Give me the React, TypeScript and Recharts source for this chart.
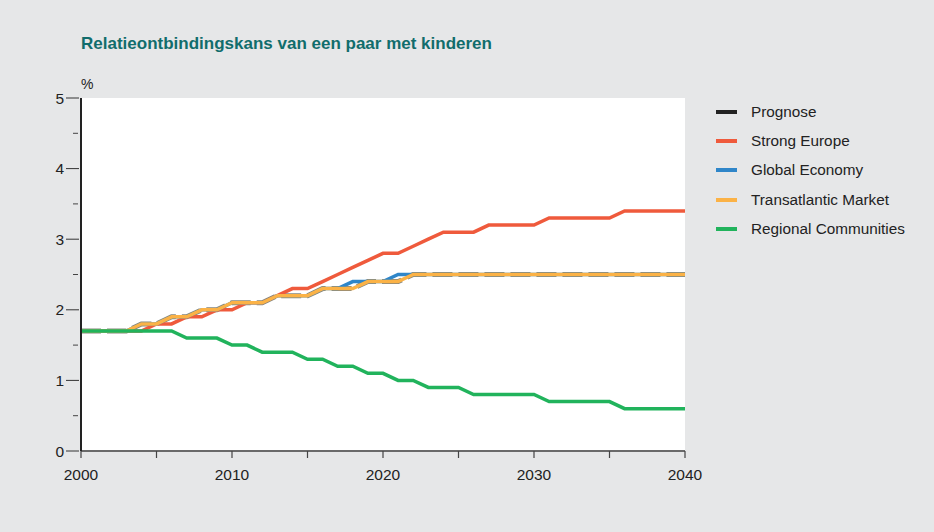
import { LineChart, Line, XAxis, YAxis, ReferenceArea } from 'recharts';

// years 2000-2040
const years = [
  2000, 2001, 2002, 2003, 2004, 2005, 2006, 2007, 2008, 2009,
  2010, 2011, 2012, 2013, 2014, 2015, 2016, 2017, 2018, 2019,
  2020, 2021, 2022, 2023, 2024, 2025, 2026, 2027, 2028, 2029,
  2030, 2031, 2032, 2033, 2034, 2035, 2036, 2037, 2038, 2039, 2040,
];

const prognose = [
  1.7, 1.7, 1.7, 1.7, 1.8, 1.8, 1.9, 1.9, 2.0, 2.0,
  2.1, 2.1, 2.1, 2.2, 2.2, 2.2, 2.3, 2.3, 2.3, 2.4,
  2.4, 2.4, 2.5, 2.5, 2.5, 2.5, 2.5, 2.5, 2.5, 2.5,
  2.5, 2.5, 2.5, 2.5, 2.5, 2.5, 2.5, 2.5, 2.5, 2.5, 2.5,
];

const strongEurope = [
  1.7, 1.7, 1.7, 1.7, 1.7, 1.8, 1.8, 1.9, 1.9, 2.0,
  2.0, 2.1, 2.1, 2.2, 2.3, 2.3, 2.4, 2.5, 2.6, 2.7,
  2.8, 2.8, 2.9, 3.0, 3.1, 3.1, 3.1, 3.2, 3.2, 3.2,
  3.2, 3.3, 3.3, 3.3, 3.3, 3.3, 3.4, 3.4, 3.4, 3.4, 3.4,
];

const globalEconomy = [
  1.7, 1.7, 1.7, 1.7, 1.8, 1.8, 1.9, 1.9, 2.0, 2.0,
  2.1, 2.1, 2.1, 2.2, 2.2, 2.2, 2.3, 2.3, 2.4, 2.4,
  2.4, 2.5, 2.5, 2.5, 2.5, 2.5, 2.5, 2.5, 2.5, 2.5,
  2.5, 2.5, 2.5, 2.5, 2.5, 2.5, 2.5, 2.5, 2.5, 2.5, 2.5,
];

const transatlanticMarket = [
  1.7, 1.7, 1.7, 1.7, 1.8, 1.8, 1.9, 1.9, 2.0, 2.0,
  2.1, 2.1, 2.1, 2.2, 2.2, 2.2, 2.3, 2.3, 2.3, 2.4,
  2.4, 2.4, 2.5, 2.5, 2.5, 2.5, 2.5, 2.5, 2.5, 2.5,
  2.5, 2.5, 2.5, 2.5, 2.5, 2.5, 2.5, 2.5, 2.5, 2.5, 2.5,
];

const regionalCommunities = [
  1.7, 1.7, 1.7, 1.7, 1.7, 1.7, 1.7, 1.6, 1.6, 1.6,
  1.5, 1.5, 1.4, 1.4, 1.4, 1.3, 1.3, 1.2, 1.2, 1.1,
  1.1, 1.0, 1.0, 0.9, 0.9, 0.9, 0.8, 0.8, 0.8, 0.8,
  0.8, 0.7, 0.7, 0.7, 0.7, 0.7, 0.6, 0.6, 0.6, 0.6, 0.6,
];

const xTicks = [2000, 2005, 2010, 2015, 2020, 2025, 2030, 2035, 2040];
const yTicks = [0, 0.5, 1, 1.5, 2, 2.5, 3, 3.5, 4, 4.5, 5];

const series = [
  { key: 'prognose', name: 'Prognose', color: '#222222' },
  { key: 'strong', name: 'Strong Europe', color: '#ef5a3c' },
  { key: 'global', name: 'Global Economy', color: '#2f86c9' },
  { key: 'transatlantic', name: 'Transatlantic Market', color: '#fbb246' },
  { key: 'regional', name: 'Regional Communities', color: '#21b35c' },
];

const data = years.map((year, i) => ({
  year,
  prognose: prognose[i],
  strong: strongEurope[i],
  global: globalEconomy[i],
  transatlantic: transatlanticMarket[i],
  regional: regionalCommunities[i],
}));

const FONT = '"Liberation Sans", Arial, sans-serif';

function YTick({ x, y, payload }: any) {
  const major = Number.isInteger(payload.value);
  if (!major) {
    return <line x1={x - 8} x2={x - 3} y1={y} y2={y} stroke='#444' strokeWidth={1} />;
  }
  return (
    <g>
      <line x1={x - 15} x2={x - 2} y1={y} y2={y} stroke='#333' strokeWidth={1} />
      <text x={x - 17} y={y + 5.5} textAnchor='end' fontSize={15.5} fill='#222' fontFamily={FONT}>
        {payload.value}
      </text>
    </g>
  );
}

function XTick({ x, y, payload }: any) {
  const labelled = payload.value % 10 === 0;
  return (
    <g>
      <line x1={x} x2={x} y1={y} y2={y + 7} stroke='#444' strokeWidth={1.2} />
      {labelled && (
        <text x={x} y={y + 29} textAnchor='middle' fontSize={15.5} fill='#222' fontFamily={FONT}>
          {payload.value}
        </text>
      )}
    </g>
  );
}

function LegendBox() {
  return (
    <div style={{ position: 'absolute', left: 716, top: 97, fontFamily: FONT, fontSize: 15.3, color: '#222' }}>
      {series.map((s) => (
        <div key={s.key} style={{ display: 'flex', alignItems: 'center', height: 29.4 }}>
          <span style={{ display: 'inline-block', width: 21, height: 4, background: s.color, marginRight: 14 }} />
          <span>{s.name}</span>
        </div>
      ))}
    </div>
  );
}

export default function App() {
  return (
    <div style={{ position: 'relative', width: 934, height: 532, background: '#e6e7e8' }}>
      <style>{'body{margin:0}'}</style>
      <div
        style={{
          position: 'absolute',
          left: 81,
          top: 34,
          fontFamily: FONT,
          fontWeight: 'bold',
          fontSize: 17,
          color: '#116d6c',
          whiteSpace: 'nowrap',
        }}
      >
        Relatieontbindingskans van een paar met kinderen
      </div>
      <div style={{ position: 'absolute', left: 81, top: 76, fontFamily: FONT, fontSize: 14, color: '#222' }}>%</div>
      <LineChart width={934} height={532} data={data} margin={{ top: 98, right: 249, bottom: 51, left: 41 }}>
        <ReferenceArea x1={2000} x2={2040} y1={0} y2={5} fill='#ffffff' fillOpacity={1} stroke='none' />
        <XAxis
          dataKey='year'
          type='number'
          domain={[2000, 2040]}
          ticks={xTicks}
          height={30}
          tickSize={0}
          tickMargin={0}
          interval={0}
          axisLine={{ stroke: '#6a6a6a', strokeWidth: 2 }}
          tickLine={false}
          tick={(p: any) => <XTick {...p} />}
        />
        <YAxis
          type='number'
          domain={[0, 5]}
          ticks={yTicks}
          width={40}
          tickSize={0}
          tickMargin={0}
          interval={0}
          axisLine={{ stroke: '#222', strokeWidth: 2 }}
          tickLine={false}
          tick={(p: any) => <YTick {...p} />}
        />
        <Line
          type='linear'
          dataKey='prognose'
          name='Prognose'
          stroke='#85857c'
          strokeWidth={5}
          strokeDasharray='20 6'
          dot={false}
          activeDot={false}
          isAnimationActive={false}
        />
        <Line type='linear' dataKey='strong' name='Strong Europe' stroke='#ef5a3c' strokeWidth={3.5} dot={false} activeDot={false} isAnimationActive={false} />
        <Line type='linear' dataKey='global' name='Global Economy' stroke='#2f86c9' strokeWidth={3.5} dot={false} activeDot={false} isAnimationActive={false} />
        <Line type='linear' dataKey='transatlantic' name='Transatlantic Market' stroke='#fbb246' strokeWidth={3.5} dot={false} activeDot={false} isAnimationActive={false} />
        <Line type='linear' dataKey='regional' name='Regional Communities' stroke='#21b35c' strokeWidth={3.5} dot={false} activeDot={false} isAnimationActive={false} />
      </LineChart>
      <LegendBox />
    </div>
  );
}
